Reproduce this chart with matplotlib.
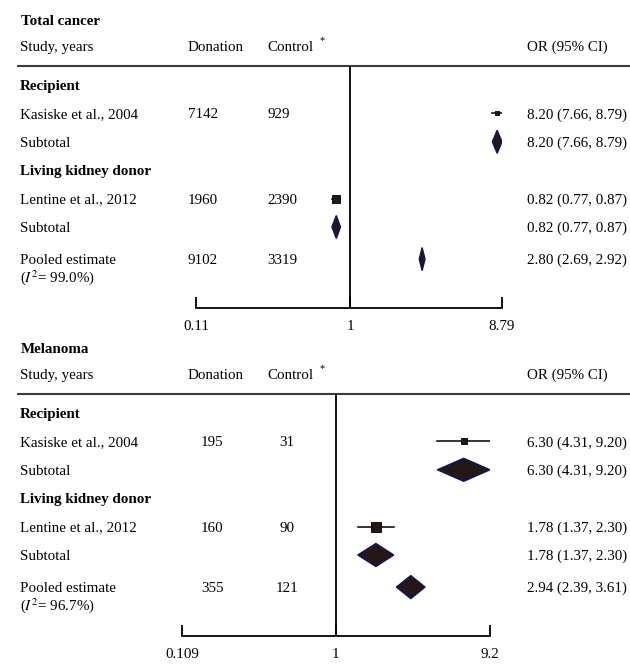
import matplotlib.pyplot as plt
from matplotlib.patches import Polygon
from matplotlib.ticker import NullLocator
from matplotlib.transforms import blended_transform_factory

plt.rcParams['font.family'] = ['Liberation Serif', 'DejaVu Serif']
plt.rcParams['mathtext.fontset'] = 'stix'
FS = 10.8
W, H = 630, 666
VA = 'baseline'
BL = 5  # px from text middle to baseline

# rows shared by both panels
row_labels = ["Recipient", "Kasiske et al., 2004", "Subtotal",
              "Living kidney donor", "Lentine et al., 2012", "Subtotal",
              "Pooled estimate"]
row_kind = ["group", "study", "sub", "group", "study", "sub", "pooled"]

# Total cancer
tc_donation = ["", "7142", "", "", "1960", "", "9102"]
tc_control = ["", "929", "", "", "2390", "", "3319"]
tc_or = [None, 8.20, 8.20, None, 0.82, 0.82, 2.80]
tc_lo = [None, 7.66, 7.66, None, 0.77, 0.77, 2.69]
tc_hi = [None, 8.79, 8.79, None, 0.87, 0.87, 2.92]
tc_i2 = "99.0%"
tc_ticks = [0.11, 1, 8.79]
tc_ticklabels = ["0.11", "1", "8.79"]

# Melanoma
mel_donation = ["", "195", "", "", "160", "", "355"]
mel_control = ["", "31", "", "", "90", "", "121"]
mel_or = [None, 6.30, 6.30, None, 1.78, 1.78, 2.94]
mel_lo = [None, 4.31, 4.31, None, 1.37, 1.37, 2.39]
mel_hi = [None, 9.20, 9.20, None, 2.30, 2.30, 3.61]
mel_i2 = "96.7%"
mel_ticks = [0.109, 1, 9.2]
mel_ticklabels = ["0.109", "1", "9.2"]

DARK = '#231815'
NAVY = '#12125e'

fig = plt.figure(figsize=(W / 100, H / 100), dpi=100)
ax0 = fig.add_axes([0, 0, 1, 1])
ax0.set_xlim(0, W)
ax0.set_ylim(H, 0)
ax0.axis('off')


def draw_panel(top, title, donation, control, est, lo, hi, i2, ticks, ticklabels,
               axis_px, don_x, don_ha, con_x, con_ha, boxes):
    hline = top + 46
    r0 = hline + 19
    step = 28.4
    axis_y = hline + 242
    x0, x1 = axis_px
    bl = BL / step

    axf = fig.add_axes([x0 / W, 1 - axis_y / H, (x1 - x0) / W, (axis_y - hline) / H])
    axf.set_xscale('log')
    axf.set_xlim(ticks[0], ticks[-1])
    axf.set_ylim((axis_y - r0) / step, (hline - r0) / step)
    axf.patch.set_alpha(0)
    for s in ['top', 'left', 'right']:
        axf.spines[s].set_visible(False)
    axf.spines['bottom'].set_linewidth(1.3)
    axf.set_yticks([])
    axf.xaxis.set_minor_locator(NullLocator())
    axf.set_xticks(ticks, ticklabels)
    axf.tick_params(axis='x', direction='in', length=8, width=1.3, pad=9, labelsize=FS)
    axf.axvline(1, color='black', lw=1.3)

    tr = blended_transform_factory(ax0.transData, axf.transData)

    ax0.text(21, top + BL, title, fontsize=FS, fontweight='bold', va=VA)
    hy = top + 26 + BL
    ax0.text(20, hy, "Study, years", fontsize=FS, va=VA)
    ax0.text(188, hy, "Donation", fontsize=FS, va=VA)
    ax0.text(267, hy, "Control", fontsize=FS, va=VA)
    ax0.text(320, hy - 8, "*", fontsize=7.5, va=VA)
    ax0.text(527, hy, "OR (95% CI)", fontsize=FS, va=VA)
    ax0.plot([17, W], [hline, hline], color='#3a3a3a', lw=1.5, solid_capstyle='butt')

    dh = 11.5 / step
    for i, (lab, kind) in enumerate(zip(row_labels, row_kind)):
        y = i + (0.13 if kind == 'pooled' else 0)
        bold = 'bold' if kind == 'group' else 'normal'
        ax0.text(20, y + bl, lab, fontsize=FS, fontweight=bold, va=VA, transform=tr)
        if kind == 'pooled':
            ax0.text(20, y + 0.62 + bl, r"($I^2$= " + i2 + ")", fontsize=FS, va=VA,
                     transform=tr)
        if donation[i]:
            ax0.text(don_x, y + bl, donation[i], fontsize=FS, va=VA, ha=don_ha, transform=tr)
            ax0.text(con_x, y + bl, control[i], fontsize=FS, va=VA, ha=con_ha, transform=tr)
        if est[i] is None:
            continue
        ax0.text(527, y + bl, f"{est[i]:.2f} ({lo[i]:.2f}, {hi[i]:.2f})", fontsize=FS,
                 va=VA, transform=tr)
        if kind == 'study':
            axf.plot([lo[i], hi[i]], [y, y], color='black', lw=1.1)
            axf.plot(est[i], y, marker='s', ms=boxes[i], color=DARK, mec='black', mew=0.6)
        else:
            d = Polygon([(lo[i], y), (est[i], y - dh), (hi[i], y), (est[i], y + dh)],
                        closed=True, facecolor=DARK, edgecolor=NAVY, lw=1)
            axf.add_patch(d)


draw_panel(20, "Total cancer", tc_donation, tc_control, tc_or, tc_lo, tc_hi, tc_i2,
           tc_ticks, tc_ticklabels, (196, 502), 188, 'left', 267, 'left',
           [0, 3.4, 0, 0, 6.4, 0, 0])
draw_panel(348, "Melanoma", mel_donation, mel_control, mel_or, mel_lo, mel_hi, mel_i2,
           mel_ticks, mel_ticklabels, (182, 490), 212, 'center', 287, 'center',
           [0, 4.4, 0, 0, 6.6, 0, 0])

fig.savefig("out.png", dpi=100)
